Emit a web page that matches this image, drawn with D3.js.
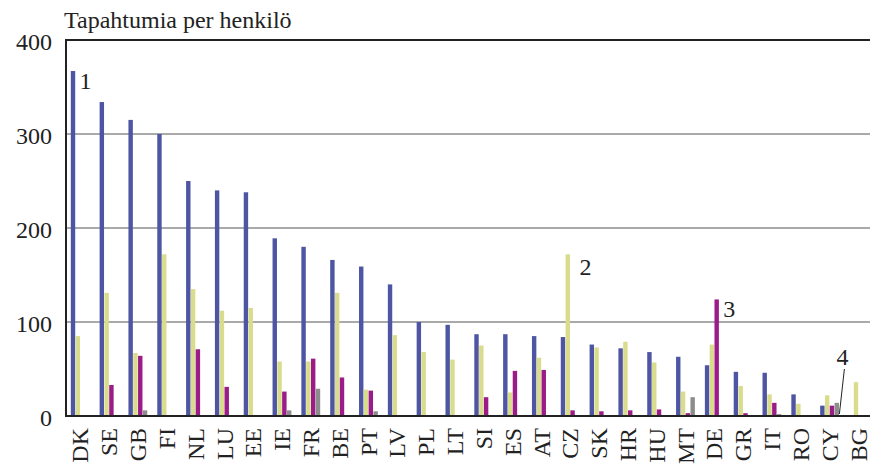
<!DOCTYPE html>
<html>
<head>
<meta charset="utf-8">
<script src="https://cdn.jsdelivr.net/npm/d3@7"></script>
<style>
  body { margin: 0; background: #fff; }
</style>
</head>
<body>
<div id="chart"></div>
<script>
const countries = ["DK", "SE", "GB", "FI", "NL", "LU", "EE", "IE", "FR", "BE", "PT", "LV", "PL", "LT",
    "SI", "ES", "AT", "CZ", "SK", "HR", "HU", "MT", "DE", "GR", "IT", "RO", "CY", "BG"];

const seriesBlue    = [367, 334, 315, 300, 250, 240, 238, 189, 180, 166, 159, 140, 100, 97,
    87, 87, 85, 84, 76, 72, 68, 63, 54, 47, 46, 23, 11, 0];
const seriesYellow  = [85, 131, 67, 172, 135, 112, 115, 58, 58, 131, 28, 86, 68, 60,
    75, 25, 62, 172, 73, 79, 57, 26, 76, 32, 23, 13, 22, 36];
const seriesMagenta = [0, 33, 64, 0, 71, 31, 0, 26, 61, 41, 27, 0, 0, 0,
    20, 48, 49, 6, 5, 6, 7, 3, 124, 3, 14, 0, 11, 0];
const seriesGray    = [0, 0, 6, 0, 0, 0, 0, 6, 29, 0, 5, 0, 0, 0,
    0, 1, 0, 0, 0, 0, 0, 20, 0, 0, 2, 0, 14, 0];

const yTicks = [0, 100, 200, 300, 400];
const notes = [
    { label: "1", country: "DK", series: "blue", dx: 4, dy: 18 },
    { label: "2", country: "CZ", series: "yellow", dx: 9, dy: 21 },
    { label: "3", country: "DE", series: "magenta", dx: 4, dy: 18 }
];

const width = 870, height = 469;
const margin = { top: 40, right: -3, bottom: 53, left: 66 };
const font = "'Liberation Serif', 'Times New Roman', serif";
const fontSize = "24px";

const series = [
    { key: "blue", color: "#4e55a3", values: seriesBlue },
    { key: "yellow", color: "#d9dc8c", values: seriesYellow },
    { key: "magenta", color: "#9b1b87", values: seriesMagenta },
    { key: "gray", color: "#8c8c8c", values: seriesGray }
];

const svg = d3.select("#chart").append("svg")
    .attr("width", width)
    .attr("height", height)
    .attr("font-family", font);

const x0 = d3.scaleBand()
    .domain(countries)
    .range([margin.left, width - margin.right])
    .padding(0);

const bw = x0.bandwidth();
const x1 = d3.scaleBand()
    .domain(series.map(s => s.key))
    .range([bw / 6, bw * 5 / 6])
    .padding(0);

const y = d3.scaleLinear()
    .domain([0, 400])
    .range([height - margin.bottom, margin.top]);

// grid lines
svg.append("g")
    .selectAll("line")
    .data(yTicks.filter(d => d > 0 && d < 400))
    .enter()
    .append("line")
    .attr("x1", margin.left)
    .attr("x2", width)
    .attr("y1", d => y(d))
    .attr("y2", d => y(d))
    .attr("stroke", "#555")
    .attr("stroke-width", 1);

// bars
const groups = svg.append("g")
    .selectAll("g")
    .data(series)
    .enter()
    .append("g")
    .attr("fill", d => d.color);

groups.selectAll("rect")
    .data(s => s.values.map((v, i) => ({ key: s.key, country: countries[i], value: v })))
    .enter()
    .append("rect")
    .attr("x", d => x0(d.country) + x1(d.key))
    .attr("width", x1.bandwidth() - 0.4)
    .attr("y", d => y(d.value))
    .attr("height", d => y(0) - y(d.value));

// frame: top, left, bottom
svg.append("path")
    .attr("d", `M${width},${y(400)}H${margin.left}V${y(0)}H${width}`)
    .attr("fill", "none")
    .attr("stroke", "#222")
    .attr("stroke-width", 2);

// y tick labels
svg.append("g")
    .selectAll("text")
    .data(yTicks)
    .enter()
    .append("text")
    .attr("x", 52)
    .attr("y", d => y(d) + 10)
    .attr("text-anchor", "end")
    .attr("fill", "#222")
    .style("font-size", fontSize)
    .text(d => d);

// category labels
svg.append("g")
    .selectAll("text")
    .data(countries)
    .enter()
    .append("text")
    .attr("transform", d => `translate(${x0(d) + bw / 2 + 8},${y(0) + 12}) rotate(-90)`)
    .attr("text-anchor", "end")
    .attr("fill", "#222")
    .style("font-size", fontSize)
    .text(d => d);

// unit title
svg.append("text")
    .attr("x", 64)
    .attr("y", 28)
    .attr("fill", "#222")
    .style("font-size", fontSize)
    .text("Tapahtumia per henkilö");

// numbered notes
notes.forEach(n => {
    const s = series.find(s => s.key === n.series);
    const i = countries.indexOf(n.country);
    svg.append("text")
        .attr("x", x0(n.country) + x1(n.series) + x1.bandwidth() + n.dx)
        .attr("y", y(s.values[i]) + n.dy)
        .attr("fill", "#222")
        .style("font-size", fontSize)
        .text(n.label);
});

// note 4 with leader line to CY gray bar
const cyX = x0("CY") + x1("gray") + x1.bandwidth();
svg.append("line")
    .attr("x1", cyX + 5)
    .attr("y1", y(0) - 47)
    .attr("x2", cyX)
    .attr("y2", y(0) - 2)
    .attr("stroke", "#222")
    .attr("stroke-width", 1);
svg.append("text")
    .attr("x", cyX + 3)
    .attr("y", y(0) - 51)
    .attr("text-anchor", "middle")
    .attr("fill", "#222")
    .style("font-size", fontSize)
    .text("4");
</script>
</body>
</html>
